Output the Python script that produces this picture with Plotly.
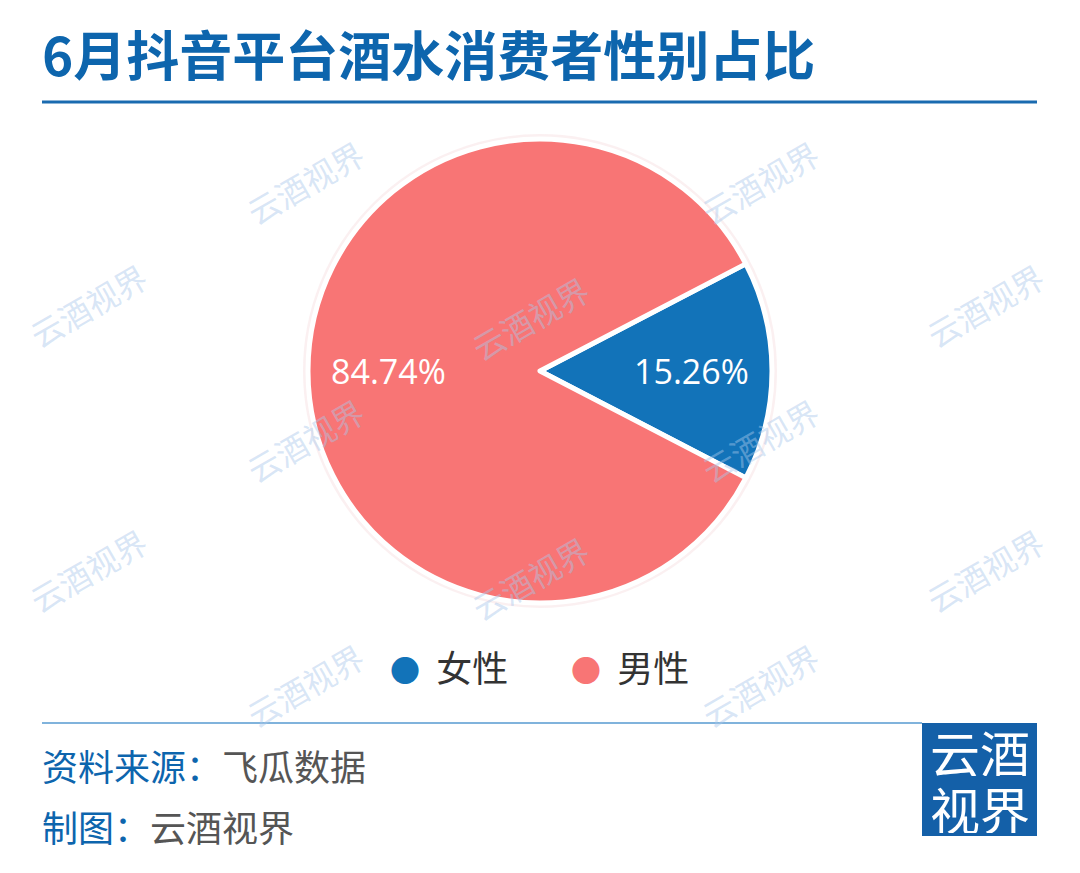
import math
import plotly.graph_objects as go

W, H = 1080, 873

TITLE = "6月抖音平台酒水消费者性别占比"
GENDERS = ["女性", "男性"]
SHARES = [15.26, 84.74]
COLORS = ["#1273b9", "#f87575"]
SOURCE_LABEL = "资料来源："
SOURCE = "飞瓜数据"
MAKER_LABEL = "制图："
MAKER = "云酒视界"
LOGO_LINES = ["云酒", "视界"]
WATERMARK = "云酒视界"
WATERMARK_SPOTS = [
    (305, 182), (760, 182),
    (88, 305), (530, 318), (985, 305),
    (305, 440), (760, 440),
    (88, 570), (530, 578), (985, 570),
    (305, 685), (760, 685),
]

CJK = "Noto Sans CJK SC"
BLUE = "#0d65ad"
ROTATION = 62.5


def fx(x):
    return x / W


def fy(y):
    return 1 - y / H


cx, cy, r = 540, 371, 232

fig = go.Figure()
fig.add_trace(
    go.Pie(
        labels=GENDERS,
        values=SHARES,
        sort=False,
        direction="clockwise",
        rotation=ROTATION,
        marker=dict(colors=COLORS, line=dict(color="white", width=5)),
        textinfo="none",
        hoverinfo="label+percent",
        showlegend=False,
        domain=dict(x=[fx(cx - r), fx(cx + r)], y=[fy(cy + r), fy(cy - r)]),
    )
)

# legend entries: round dot drawn as a glyph in the entry text
for name, color in zip(GENDERS, COLORS):
    fig.add_trace(
        go.Scatter(
            x=[None], y=[None], mode="none",
            name=f"<span style='color:{color};font-size:30px'>●</span>  {name}",
        )
    )

shapes = [
    dict(type="line", xref="paper", yref="paper", x0=fx(42), x1=fx(1037), y0=fy(102), y1=fy(102),
         line=dict(color="#1a6bb0", width=3)),
    dict(type="line", xref="paper", yref="paper", x0=fx(42), x1=fx(922), y0=fy(723), y1=fy(723),
         line=dict(color="#80b3dc", width=2)),
    dict(type="rect", xref="paper", yref="paper", x0=fx(922), x1=fx(1037), y0=fy(836), y1=fy(723),
         fillcolor="#1460a8", line=dict(width=0)),
    dict(type="circle", xref="paper", yref="paper", x0=fx(cx - r - 3), x1=fx(cx + r + 3),
         y0=fy(cy + r + 3), y1=fy(cy - r - 3), line=dict(color="rgba(250,236,238,0.8)", width=4),
         layer="below"),
]

annotations = [
    dict(text="<b>" + TITLE + "</b>", x=fx(40), y=fy(53), xanchor="left", yanchor="middle",
         font=dict(family=CJK, size=53, color=BLUE)),
    dict(text=f"<span style='color:{BLUE}'>{SOURCE_LABEL}</span>{SOURCE}", x=fx(40), y=fy(765),
         xanchor="left", yanchor="middle", font=dict(family=CJK, size=36, color="#555555")),
    dict(text=f"<span style='color:{BLUE}'>{MAKER_LABEL}</span>{MAKER}", x=fx(40), y=fy(826),
         xanchor="left", yanchor="middle", font=dict(family=CJK, size=36, color="#555555")),
]
for line, y in zip(LOGO_LINES, [751, 808]):
    annotations.append(
        dict(text=line, x=fx(980), y=fy(y), xanchor="center", yanchor="middle", height=50,
             font=dict(family=CJK, size=50, color="white"))
    )

# percentage labels at the middle of each slice
total = sum(SHARES)
start = ROTATION
for share in SHARES:
    sweep = share / total * 360
    mid = math.radians(start + sweep / 2)
    start += sweep
    lx = cx + 0.655 * r * math.sin(mid)
    ly = cy - 0.655 * r * math.cos(mid)
    annotations.append(
        dict(text=f"{share / total * 100:.2f}%", x=fx(lx), y=fy(ly), xanchor="center", yanchor="middle",
             font=dict(family="Open Sans", size=34, color="white"))
    )

for x, y in WATERMARK_SPOTS:
    annotations.append(
        dict(text=WATERMARK, x=fx(x), y=fy(y), xanchor="center", yanchor="middle", textangle=-30,
             font=dict(family=CJK, size=32, color="rgba(170,200,235,0.45)"))
    )

for a in annotations:
    a.update(xref="paper", yref="paper", showarrow=False)

fig.update_layout(
    width=W, height=H,
    margin=dict(l=0, r=0, t=0, b=0),
    paper_bgcolor="white", plot_bgcolor="white",
    xaxis=dict(visible=False), yaxis=dict(visible=False),
    showlegend=True,
    legend=dict(orientation="h", x=fx(350), xanchor="left", y=fy(668), yanchor="middle",
                font=dict(family=CJK, size=36, color="#333333"),
                itemwidth=30, entrywidth=136, bgcolor="rgba(0,0,0,0)"),
    shapes=shapes,
    annotations=annotations,
)

fig.write_html("out.html", config={"displayModeBar": False},
               post_script="document.body.style.margin='0';")
